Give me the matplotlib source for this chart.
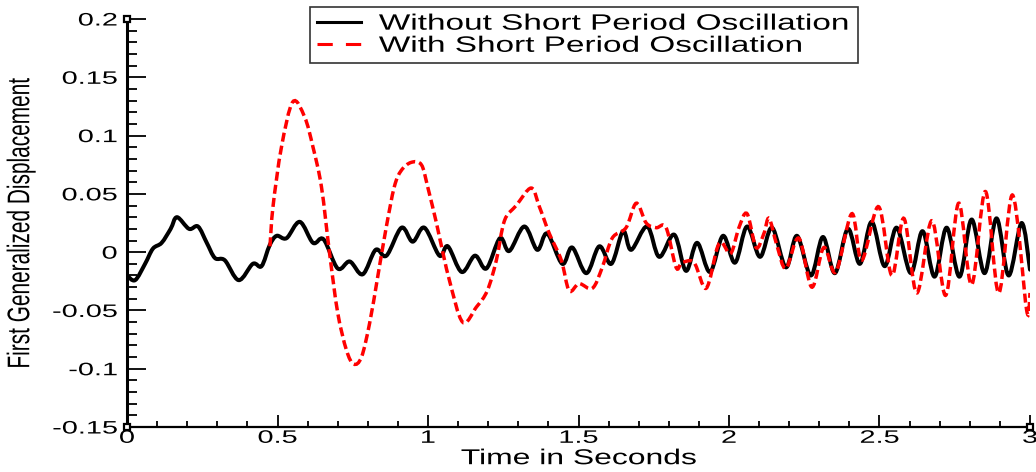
import matplotlib
matplotlib.use('Agg')
import numpy as np
import matplotlib.pyplot as plt
from matplotlib.lines import Line2D
from matplotlib.path import Path
from matplotlib.patches import PathPatch
from matplotlib.patheffects import AbstractPathEffect
from matplotlib.transforms import Affine2D
from matplotlib.ticker import MultipleLocator

# Curve without short period oscillation
time_black = [0.000, 0.027, 0.060, 0.086, 0.115, 0.145, 0.166, 0.206, 0.236, 0.265,
              0.292, 0.325, 0.371, 0.418, 0.447, 0.474, 0.497, 0.530, 0.574, 0.618,
              0.653, 0.700, 0.740, 0.783, 0.826, 0.862, 0.912, 0.949, 0.988, 1.038,
              1.066, 1.112, 1.156, 1.194, 1.239, 1.270, 1.320, 1.363, 1.396, 1.446,
              1.479, 1.526, 1.569, 1.609, 1.648, 1.675, 1.728, 1.768, 1.818, 1.857,
              1.894, 1.937, 1.980, 2.020, 2.060, 2.103, 2.143, 2.189, 2.226, 2.272,
              2.312, 2.352, 2.395, 2.435, 2.474, 2.517, 2.557, 2.604, 2.643, 2.683,
              2.723, 2.766, 2.806, 2.849, 2.889, 2.929, 2.972, 3.000]
disp_black = [-0.020, -0.024, -0.010, 0.003, 0.008, 0.020, 0.030, 0.020, 0.022, 0.008,
              -0.005, -0.007, -0.024, -0.010, -0.012, 0.006, 0.014, 0.012, 0.026, 0.008,
              0.011, -0.014, -0.008, -0.019, 0.002, -0.003, 0.021, 0.009, 0.021, -0.003,
              0.005, -0.017, -0.003, -0.014, 0.012, 0.001, 0.022, 0.002, 0.016, -0.010,
              0.004, -0.018, 0.005, -0.010, 0.018, 0.002, 0.022, -0.004, 0.015, -0.016,
              0.008, -0.017, 0.014, -0.009, 0.022, -0.004, 0.021, -0.013, 0.014, -0.020,
              0.013, -0.018, 0.020, -0.010, 0.026, -0.012, 0.021, -0.018, 0.018, -0.021,
              0.021, -0.021, 0.028, -0.018, 0.029, -0.020, 0.025, -0.015]

# Curve with short period oscillation
time_red = [0.475, 0.485, 0.513, 0.551, 0.590, 0.618, 0.646, 0.673, 0.700, 0.729,
            0.753, 0.779, 0.806, 0.833, 0.861, 0.888, 0.911, 0.944, 0.978, 0.999,
            1.028, 1.038, 1.071, 1.115, 1.161, 1.197, 1.227, 1.254, 1.293, 1.343,
            1.370, 1.403, 1.443, 1.469, 1.502, 1.546, 1.579, 1.612, 1.658, 1.692,
            1.725, 1.758, 1.791, 1.824, 1.844, 1.884, 1.924, 1.960, 1.977, 2.006,
            2.033, 2.060, 2.090, 2.116, 2.133, 2.159, 2.189, 2.232, 2.275, 2.315,
            2.355, 2.408, 2.441, 2.497, 2.541, 2.581, 2.624, 2.674, 2.720, 2.763,
            2.806, 2.852, 2.896, 2.942, 2.989, 3.000]
disp_red = [0.005, 0.039, 0.090, 0.129, 0.116, 0.090, 0.056, -0.001, -0.052, -0.084,
            -0.096, -0.090, -0.061, -0.021, 0.021, 0.056, 0.070, 0.077, 0.075, 0.056,
            0.025, 0.013, -0.024, -0.060, -0.047, -0.033, -0.007, 0.027, 0.040, 0.055,
            0.039, 0.016, -0.007, -0.033, -0.027, -0.031, -0.013, 0.012, 0.021, 0.042,
            0.025, 0.021, 0.021, -0.013, -0.009, -0.009, -0.031, 0.003, 0.008, -0.001,
            0.021, 0.033, 0.004, 0.016, 0.029, 0.006, -0.014, 0.012, -0.030, 0.004,
            -0.017, 0.033, -0.007, 0.039, -0.020, 0.029, -0.035, 0.027, -0.037, 0.042,
            -0.028, 0.052, -0.035, 0.049, -0.050, -0.035]

series_names = ['Without Short Period Oscillation', 'With Short Period Oscillation']
x_ticks = [0, 0.5, 1, 1.5, 2, 2.5, 3]
x_labels = ['0', '0.5', '1', '1.5', '2', '2.5', '3']
y_ticks = [-0.15, -0.1, -0.05, 0, 0.05, 0.1, 0.15, 0.2]
y_labels = ['-0.15', '-0.1', '-0.05', '0', '0.05', '0.1', '0.15', '0.2']
x_lim = (0, 3)
y_lim = (-0.15, 0.2)


class Widen(AbstractPathEffect):
    # the reference is stretched sideways, so stretch the glyphs the same way
    def __init__(self, sx, anchor='center'):
        super().__init__()
        self.sx = sx
        self.anchor = anchor

    def draw_path(self, renderer, gc, tpath, affine, rgbFace=None):
        ext = tpath.transformed(affine).get_extents()
        a = {'left': ext.x0, 'right': ext.x1, 'center': 0.5*(ext.x0 + ext.x1)}[self.anchor]
        stretch = Affine2D().translate(-a, 0).scale(self.sx, 1).translate(a, 0)
        renderer.draw_path(gc, tpath, affine + stretch, rgbFace)


def smooth_path(xs, ys):
    # draw the read points as a smooth (Catmull-Rom style) bezier path through them
    pts = np.column_stack([xs, ys])
    ext = np.vstack([pts[0], pts, pts[-1]])
    verts = [pts[0]]
    codes = [Path.MOVETO]
    for i in range(1, len(ext) - 2):
        p0, p1, p2, p3 = ext[i-1], ext[i], ext[i+1], ext[i+2]
        verts += [p1 + (p2 - p0)/6, p2 - (p3 - p1)/6, p2]
        codes += [Path.CURVE4]*3
    return Path(verts, codes)


plt.rcParams['font.family'] = ['Liberation Sans', 'DejaVu Sans']

fig = plt.figure(figsize=(10.36, 4.72), dpi=100)
ax = fig.add_axes([0.1226, 0.0953, 0.8716, 0.8644])

ax.add_patch(PathPatch(smooth_path(time_black, disp_black), fill=False,
                       edgecolor='black', lw=2.9, joinstyle='round', capstyle='round'))
ax.add_patch(PathPatch(smooth_path(time_red, disp_red), fill=False,
                       edgecolor='red', lw=2.5, linestyle=(0, (2.6, 1.2))))

ax.set_xlim(*x_lim)
ax.set_ylim(*y_lim)
ax.set_xticks(x_ticks, x_labels)
ax.set_yticks(y_ticks, y_labels)
ax.xaxis.set_minor_locator(MultipleLocator(0.1))
ax.yaxis.set_minor_locator(MultipleLocator(0.01))

ax.spines[['top', 'right']].set_visible(False)
ax.spines['left'].set_linewidth(2.2)
ax.spines['bottom'].set_linewidth(1.6)
ax.tick_params(which='both', direction='in', width=1.3, colors='black')
ax.tick_params(axis='y', which='major', length=13.7, pad=7, labelsize=13)
ax.tick_params(axis='y', which='minor', length=7.2)
ax.tick_params(axis='x', which='major', length=8.6, pad=2, labelsize=13)
ax.tick_params(axis='x', which='minor', length=4.3)

# little square caps at the axis ends
ax.plot([x_lim[0], x_lim[0], x_lim[1]], [y_lim[1], y_lim[0], y_lim[0]], ls='none',
        marker='s', ms=4.5, mfc='white', mec='black', mew=1.6, clip_on=False, zorder=5)

for t in ax.get_xticklabels():
    t.set_path_effects([Widen(1.6, 'center')])
for t in ax.get_yticklabels():
    t.set_path_effects([Widen(1.6, 'right')])

ax.set_xlabel('Time in Seconds', fontsize=15.5, labelpad=1,
              path_effects=[Widen(1.48, 'center')])
ax.set_ylabel('First Generalized Displacement', fontsize=15, va='center',
              path_effects=[Widen(1.5, 'center')])
ax.yaxis.set_label_coords(-0.1174, 0.5)

handles = [Line2D([], [], color='black', lw=2.2),
           Line2D([], [], color='red', lw=2.2, dashes=(5, 4.3))]
leg = ax.legend(handles, series_names, loc='upper left',
                bbox_to_anchor=(310/1036, 1 - 59/472, 548/1036, 52/472),
                bbox_transform=fig.transFigure, mode='expand', borderaxespad=0,
                fontsize=16, labelspacing=0.05, borderpad=0.3,
                handlelength=2.0, handletextpad=0.8,
                fancybox=False, framealpha=1, edgecolor='#333333')
leg.get_frame().set_linewidth(1.2)
for t in leg.get_texts():
    t.set_path_effects([Widen(1.5, 'left')])

fig.savefig('out.png', dpi=100)
